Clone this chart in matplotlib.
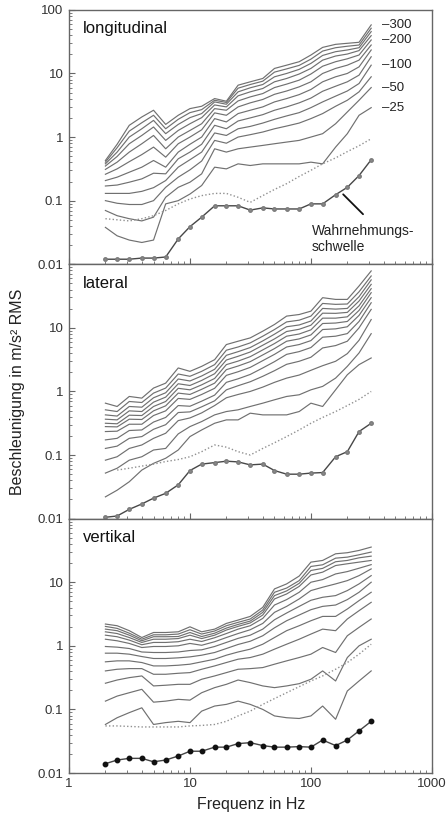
import numpy as np
import matplotlib.pyplot as plt
from matplotlib.ticker import FixedLocator, FixedFormatter, LogLocator, NullFormatter

plt.rcParams["font.family"]=["Liberation Sans","DejaVu Sans"]

# third-octave centre frequencies (Hz)
freq=[2,2.5,3.15,4,5,6.3,8,10,12.5,16,20,25,31.5,40,50,63,80,100,125,160,200,250,315]
levels=[25,50,75,100,125,150,175,200,225,250,275,300]
label_levels=[300,200,100,50,25]

# longitudinal, one row per level (25 ... 300)
long_curves=[
    [0.038,0.028,0.024,0.022,0.024,0.089,0.10,0.127,0.173,0.336,0.316,0.379,0.357,0.379,0.379,0.379,0.379,0.403,0.379,0.695,1.13,2.2,2.9],
    [0.070,0.058,0.052,0.048,0.055,0.113,0.162,0.195,0.264,0.654,0.58,0.654,0.695,0.739,0.785,0.834,0.886,1.0,1.13,1.62,2.48,3.79,6.0],
    [0.10,0.091,0.087,0.087,0.10,0.162,0.234,0.305,0.42,0.886,0.80,1.0,1.09,1.20,1.35,1.49,1.66,1.95,2.34,3.05,3.79,5.14,8.86],
    [0.13,0.13,0.13,0.14,0.16,0.207,0.336,0.44,0.58,1.16,1.06,1.35,1.47,1.66,1.90,2.15,2.42,2.9,3.57,4.4,5.3,6.95,13.5],
    [0.17,0.176,0.195,0.22,0.27,0.264,0.455,0.58,0.77,1.53,1.35,1.79,2.0,2.25,2.64,2.98,3.45,4.1,5.25,6.3,7.39,9.41,18.3],
    [0.207,0.234,0.28,0.336,0.428,0.336,0.58,0.77,1.0,1.95,1.73,2.34,2.64,2.98,3.57,4.03,4.65,5.6,7.39,8.86,10.0,12.7,23.4],
    [0.26,0.316,0.41,0.53,0.695,0.483,0.785,1.0,1.3,2.4,2.2,2.98,3.45,3.9,4.7,5.3,6.16,7.39,10.0,12.0,13.5,16.2,28.0],
    [0.31,0.403,0.58,0.785,1.06,0.654,1.0,1.27,1.62,2.8,2.64,3.7,4.28,4.83,6.0,6.8,7.85,9.8,13.0,15.3,17.0,19.5,33.6],
    [0.35,0.495,0.785,1.06,1.44,0.886,1.27,1.62,2.02,3.2,2.98,4.45,5.14,5.8,7.39,8.34,9.8,12.0,16.2,18.8,20.2,22.9,39.3],
    [0.379,0.58,1.0,1.35,1.83,1.13,1.58,2.02,2.34,3.57,3.28,5.14,5.95,6.7,8.86,10.0,11.6,14.4,19.2,22.0,23.4,25.4,45.5],
    [0.403,0.68,1.24,1.68,2.2,1.35,1.9,2.42,2.7,3.79,3.5,5.87,6.7,7.56,10.5,11.8,13.4,16.8,22.5,25.4,26.8,28.0,51.4],
    [0.428,0.77,1.53,2.07,2.64,1.58,2.2,2.8,3.05,4.03,3.66,6.54,7.39,8.34,12.0,13.5,15.3,19.5,25.7,28.7,29.8,30.9,58.0],
]
long_thr=[0.012,0.012,0.012,0.0125,0.0125,0.013,0.025,0.039,0.055,0.083,0.083,0.083,0.071,0.077,0.074,0.074,0.074,0.089,0.089,0.124,0.162,0.248,0.44]
long_dot=[0.052,0.050,0.048,0.052,0.058,0.070,0.089,0.106,0.120,0.130,0.130,0.113,0.094,0.120,0.15,0.185,0.24,0.30,0.38,0.47,0.59,0.73,0.94]

# lateral
lat_curves=[
    [0.022,0.028,0.038,0.058,0.074,0.089,0.12,0.195,0.248,0.316,0.357,0.357,0.455,0.428,0.428,0.428,0.483,0.654,0.58,1.06,1.83,2.64,3.36],
    [0.052,0.062,0.083,0.094,0.12,0.127,0.215,0.28,0.336,0.428,0.483,0.514,0.58,0.654,0.739,0.834,0.886,1.06,1.2,1.62,2.48,4.03,8.1],
    [0.083,0.094,0.127,0.144,0.183,0.22,0.348,0.383,0.46,0.60,0.795,0.896,1.0,1.17,1.39,1.62,1.81,2.15,2.54,2.98,3.93,6.38,13.5],
    [0.127,0.138,0.183,0.195,0.254,0.30,0.466,0.477,0.573,0.712,1.06,1.23,1.42,1.73,2.12,2.67,2.98,3.45,4.83,5.26,6.16,10.0,19.5],
    [0.173,0.183,0.243,0.248,0.33,0.39,0.60,0.585,0.703,0.875,1.39,1.58,1.85,2.34,2.94,3.83,4.23,4.9,7.13,7.39,8.12,12.6,24.8],
    [0.234,0.237,0.305,0.305,0.418,0.495,0.776,0.75,0.896,1.12,1.79,2.04,2.39,3.05,3.83,5.0,5.46,6.3,9.41,9.64,10.4,15.7,29.8],
    [0.28,0.277,0.366,0.362,0.495,0.594,0.941,0.897,1.08,1.35,2.2,2.51,2.94,3.75,4.72,6.16,6.7,7.74,11.7,11.9,12.6,18.8,35.7],
    [0.316,0.31,0.423,0.418,0.58,0.695,1.12,1.06,1.27,1.6,2.64,3.0,3.52,4.5,5.66,7.39,8.0,9.3,14.2,14.2,14.9,22.2,41.3],
    [0.366,0.357,0.495,0.483,0.678,0.814,1.32,1.24,1.49,1.9,3.12,3.57,4.17,5.33,6.7,8.76,9.5,11.0,17.0,16.9,17.5,26.4,48.3],
    [0.428,0.41,0.58,0.565,0.795,0.953,1.57,1.46,1.75,2.23,3.7,4.22,4.9,6.23,7.95,10.4,11.1,12.8,20.2,19.7,20.2,30.9,56.7],
    [0.514,0.483,0.695,0.67,0.941,1.13,1.88,1.73,2.07,2.64,4.45,5.0,5.8,7.39,9.41,12.4,13.2,15.3,24.2,23.4,23.7,36.9,65.4],
    [0.654,0.58,0.834,0.785,1.13,1.35,2.34,2.07,2.48,3.16,5.46,6.16,6.95,8.86,11.3,15.3,16.2,18.3,29.8,28.0,28.0,45.5,78.5],
]
lat_thr=[0.0105,0.011,0.014,0.017,0.021,0.025,0.034,0.057,0.072,0.076,0.080,0.078,0.070,0.072,0.057,0.050,0.050,0.052,0.053,0.094,0.113,0.234,0.316]
lat_dot=[0.058,0.062,0.067,0.072,0.079,0.085,0.094,0.113,0.144,0.133,0.113,0.10,0.127,0.156,0.195,0.248,0.316,0.39,0.483,0.60,0.75,1.0]

# vertical, from top to bottom
vert_curves=[
    [2.2,2.07,1.73,1.35,1.62,1.62,1.66,1.99,1.66,1.83,2.25,2.54,2.9,4.03,7.85,9.41,12.5,20.7,22.0,28.0,29.1,31.6,35.7],
    [2.02,1.88,1.58,1.27,1.49,1.49,1.53,1.79,1.53,1.71,2.07,2.34,2.64,3.66,6.95,8.1,10.6,17.7,18.8,23.9,24.8,27.0,29.8],
    [1.83,1.73,1.47,1.20,1.39,1.39,1.40,1.62,1.40,1.58,1.90,2.17,2.45,3.36,6.16,7.3,9.6,15.3,16.5,21.0,22.0,24.2,25.7],
    [1.66,1.56,1.35,1.13,1.27,1.27,1.30,1.47,1.30,1.47,1.77,2.02,2.29,3.05,5.46,6.54,8.6,13.0,14.4,18.3,19.5,20.7,22.0],
    [1.47,1.39,1.23,1.04,1.13,1.13,1.16,1.27,1.17,1.34,1.56,1.83,2.07,2.7,4.38,5.33,6.95,10.0,11.0,13.5,14.7,16.6,18.9],
    [1.27,1.20,1.09,0.94,0.976,0.976,1.0,1.09,1.02,1.16,1.35,1.56,1.79,2.25,3.36,4.17,5.46,7.39,8.34,9.41,10.6,12.7,16.2],
    [0.976,0.953,0.907,0.80,0.785,0.785,0.80,0.844,0.865,0.976,1.13,1.31,1.47,1.83,2.57,3.28,4.17,5.2,5.8,6.16,7.39,9.41,12.7],
    [0.766,0.766,0.739,0.678,0.632,0.632,0.647,0.67,0.712,0.785,0.907,1.05,1.18,1.44,1.92,2.48,3.05,3.7,4.17,4.38,5.33,6.95,10.0],
    [0.56,0.58,0.58,0.546,0.483,0.483,0.495,0.514,0.56,0.616,0.712,0.80,0.886,1.06,1.35,1.73,2.07,2.48,2.9,2.9,3.79,5.14,6.95],
    [0.403,0.428,0.438,0.438,0.357,0.357,0.37,0.379,0.428,0.483,0.546,0.616,0.654,0.739,0.886,1.06,1.27,1.53,1.83,1.73,2.64,3.57,4.83],
    [0.258,0.29,0.316,0.336,0.234,0.24,0.248,0.248,0.298,0.336,0.379,0.428,0.438,0.455,0.514,0.58,0.654,0.739,0.941,0.785,1.44,1.95,2.64],
    [0.135,0.162,0.183,0.207,0.13,0.135,0.144,0.14,0.183,0.22,0.248,0.29,0.264,0.234,0.22,0.234,0.254,0.298,0.403,0.28,0.654,1.0,1.27],
    [0.058,0.074,0.089,0.106,0.058,0.062,0.065,0.062,0.094,0.113,0.12,0.135,0.12,0.10,0.079,0.074,0.072,0.079,0.113,0.07,0.195,0.28,0.403],
]
vert_thr=[0.014,0.016,0.017,0.017,0.015,0.016,0.0185,0.022,0.022,0.0255,0.0255,0.029,0.030,0.027,0.0255,0.0255,0.026,0.0255,0.033,0.027,0.033,0.046,0.065]
vert_dot=[0.055,0.055,0.054,0.053,0.053,0.053,0.053,0.055,0.056,0.058,0.065,0.079,0.094,0.12,0.148,0.183,0.228,0.28,0.336,0.428,0.546,0.739,1.06]

panel_names=["longitudinal","lateral","vertikal"]
line_col="#707070"
frame_col="#666666"

fig,axes=plt.subplots(3,1,figsize=(4.48,8.22),dpi=100,sharex=True)
fig.subplots_adjust(left=0.154,right=0.964,top=0.988,bottom=0.0596,hspace=0)

panels=[
    (long_curves,long_thr,freq,long_dot),
    (lat_curves,lat_thr,freq[1:],lat_dot),
    (vert_curves,vert_thr,freq,vert_dot),
]

for i,(ax,(curves,thr,dot_f,dot)) in enumerate(zip(axes,panels)):
    ax.set_xscale("log")
    ax.set_yscale("log")
    ax.set_xlim(1,1000)
    ax.set_ylim(0.01,100)

    for c in curves:
        ax.plot(freq,c,color=line_col,lw=0.85)
    ax.plot(dot_f,dot,color="#909090",lw=1.0,ls=(0,(1,1.6)))

    if i<2:
        ax.plot(freq,thr,color="#474747",lw=1.0,marker="o",ms=2.5,mfc="#8a8a8a",mec="#7a7a7a")
    else:
        ax.plot(freq,thr,color="#444444",lw=1.0,marker="o",ms=3.2,mfc="#111111",mec="#111111")

    ax.text(0.038,0.925,panel_names[i],transform=ax.transAxes,fontsize=12,va="center",ha="left",color="#111111")

    yt=[0.01,0.1,1,10,100]
    ylab=["0.01","0.1","1","10","100"] if i==0 else ["0.01","0.1","1","10",""]
    ax.yaxis.set_major_locator(FixedLocator(yt))
    ax.yaxis.set_major_formatter(FixedFormatter(ylab))
    ax.yaxis.set_minor_locator(LogLocator(base=10,subs=np.arange(2,10)))
    ax.yaxis.set_minor_formatter(NullFormatter())

    ax.tick_params(axis="both",which="major",direction="in",length=4,width=0.8,color=frame_col,labelsize=9.5,labelcolor="#333333")
    ax.tick_params(axis="both",which="minor",direction="in",length=2,width=0.6,color=frame_col)
    ax.tick_params(axis="y",pad=4)
    for s in ax.spines.values():
        s.set_color(frame_col)
        s.set_linewidth(1.0)

ax=axes[2]
ax.xaxis.set_major_locator(FixedLocator([1,10,100,1000]))
ax.xaxis.set_major_formatter(FixedFormatter(["1","10","100","1000"]))
ax.xaxis.set_minor_locator(LogLocator(base=10,subs=np.arange(2,10)))
ax.xaxis.set_minor_formatter(NullFormatter())

# level labels at the right end of the longitudinal curves
ax0=axes[0]
for lv in label_levels:
    yv=long_curves[levels.index(lv)][-1]
    ax0.text(384,yv,"\u2013"+str(lv),fontsize=9.5,va="center",ha="left",color="#222222")

ax0.text(102,0.025,"Wahrnehmungs-\nschwelle",fontsize=10,va="center",ha="left",color="#222222",linespacing=1.15)
ax0.annotate("",xy=(178,0.135),xytext=(280,0.057),arrowprops=dict(arrowstyle="-",color="#111111",lw=1.3))

fig.text(0.04,0.523,"Beschleunigung in m/s\u00b2 RMS",rotation=90,va="center",ha="center",fontsize=11.5,color="#222222")
fig.text(0.56,0.021,"Frequenz in Hz",va="center",ha="center",fontsize=11.5,color="#222222")

fig.savefig("out.png",dpi=100)
